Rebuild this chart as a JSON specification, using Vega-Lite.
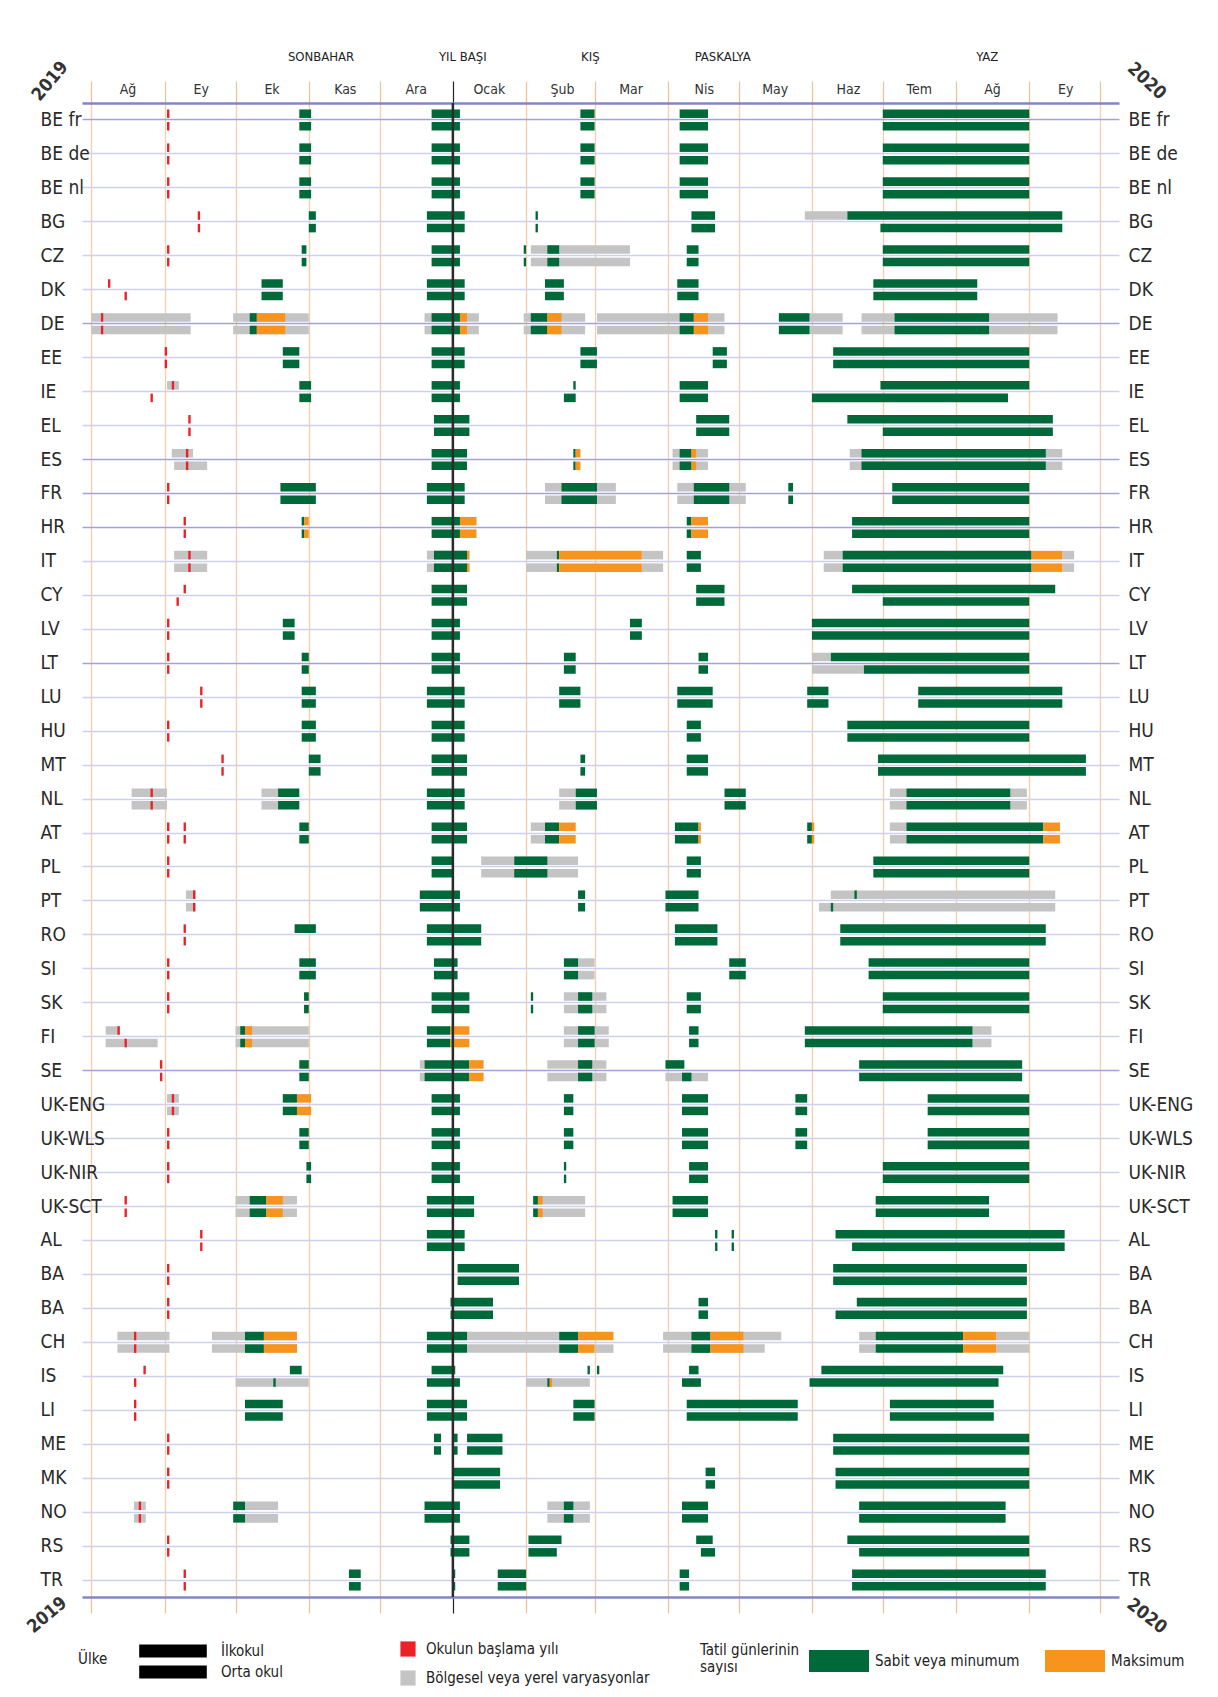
{
"$schema": "https://vega.github.io/schema/vega-lite/v6.json",
"width": 1037,
"height": 1494,
"autosize": {"type": "none"},
"padding": {"left": 82, "top": 103, "right": 99, "bottom": 100},
"background": "white",
"config": {
  "view": {"stroke": null},
  "font": "Liberation Sans Narrow, DejaVu Sans Condensed, Roboto, sans-serif",
  "axis": {"labelFont": "Liberation Sans Narrow, DejaVu Sans Condensed, Roboto, sans-serif"},
  "legend": {"labelFont": "Liberation Sans Narrow, DejaVu Sans Condensed, Roboto, sans-serif", "titleFont": "Liberation Sans Narrow, DejaVu Sans Condensed, Roboto, sans-serif", "labelFontSize": 15, "titleFontSize": 15, "titleFontWeight": "normal", "labelColor": "#222", "titleColor": "#222", "symbolStrokeWidth": 0, "labelLimit": 400}
},
"data": {"values": [
{"c":"BE fr","s":"2019-09-02","e":"2019-09-03","t":"r","l":["p","s"]},
{"c":"BE fr","s":"2019-10-28","e":"2019-11-02","t":"g","l":["p","s"]},
{"c":"BE fr","s":"2019-12-23","e":"2020-01-04","t":"g","l":["p","s"]},
{"c":"BE fr","s":"2020-02-24","e":"2020-03-01","t":"g","l":["p","s"]},
{"c":"BE fr","s":"2020-04-06","e":"2020-04-18","t":"g","l":["p","s"]},
{"c":"BE fr","s":"2020-07-01","e":"2020-09-01","t":"g","l":["p","s"]},
{"c":"BE de","s":"2019-09-02","e":"2019-09-03","t":"r","l":["p","s"]},
{"c":"BE de","s":"2019-10-28","e":"2019-11-02","t":"g","l":["p","s"]},
{"c":"BE de","s":"2019-12-23","e":"2020-01-04","t":"g","l":["p","s"]},
{"c":"BE de","s":"2020-02-24","e":"2020-03-01","t":"g","l":["p","s"]},
{"c":"BE de","s":"2020-04-06","e":"2020-04-18","t":"g","l":["p","s"]},
{"c":"BE de","s":"2020-07-01","e":"2020-09-01","t":"g","l":["p","s"]},
{"c":"BE nl","s":"2019-09-02","e":"2019-09-03","t":"r","l":["p","s"]},
{"c":"BE nl","s":"2019-10-28","e":"2019-11-02","t":"g","l":["p","s"]},
{"c":"BE nl","s":"2019-12-23","e":"2020-01-04","t":"g","l":["p","s"]},
{"c":"BE nl","s":"2020-02-24","e":"2020-03-01","t":"g","l":["p","s"]},
{"c":"BE nl","s":"2020-04-06","e":"2020-04-18","t":"g","l":["p","s"]},
{"c":"BE nl","s":"2020-07-01","e":"2020-09-01","t":"g","l":["p","s"]},
{"c":"BG","s":"2019-09-15","e":"2019-09-16","t":"r","l":["p","s"]},
{"c":"BG","s":"2019-11-01","e":"2019-11-04","t":"g","l":["p","s"]},
{"c":"BG","s":"2019-12-21","e":"2020-01-06","t":"g","l":["p","s"]},
{"c":"BG","s":"2020-02-05","e":"2020-02-06","t":"g","l":["p","s"]},
{"c":"BG","s":"2020-04-11","e":"2020-04-21","t":"g","l":["p","s"]},
{"c":"BG","s":"2020-05-29","e":"2020-06-16","t":"x","l":["p"]},
{"c":"BG","s":"2020-06-16","e":"2020-09-15","t":"g","l":["p"]},
{"c":"BG","s":"2020-06-30","e":"2020-09-15","t":"g","l":["s"]},
{"c":"CZ","s":"2019-09-02","e":"2019-09-03","t":"r","l":["p","s"]},
{"c":"CZ","s":"2019-10-29","e":"2019-10-31","t":"g","l":["p","s"]},
{"c":"CZ","s":"2019-12-23","e":"2020-01-04","t":"g","l":["p","s"]},
{"c":"CZ","s":"2020-01-31","e":"2020-02-01","t":"g","l":["p","s"]},
{"c":"CZ","s":"2020-02-03","e":"2020-03-16","t":"x","l":["p","s"]},
{"c":"CZ","s":"2020-02-10","e":"2020-02-15","t":"g","l":["p","s"]},
{"c":"CZ","s":"2020-04-09","e":"2020-04-14","t":"g","l":["p","s"]},
{"c":"CZ","s":"2020-07-01","e":"2020-09-01","t":"g","l":["p","s"]},
{"c":"DK","s":"2019-08-08","e":"2019-08-09","t":"r","l":["p"]},
{"c":"DK","s":"2019-08-15","e":"2019-08-16","t":"r","l":["s"]},
{"c":"DK","s":"2019-10-12","e":"2019-10-21","t":"g","l":["p","s"]},
{"c":"DK","s":"2019-12-21","e":"2020-01-06","t":"g","l":["p","s"]},
{"c":"DK","s":"2020-02-09","e":"2020-02-17","t":"g","l":["p","s"]},
{"c":"DK","s":"2020-04-05","e":"2020-04-14","t":"g","l":["p","s"]},
{"c":"DK","s":"2020-06-27","e":"2020-08-10","t":"g","l":["p","s"]},
{"c":"DE","s":"2019-08-01","e":"2019-09-12","t":"x","l":["p","s"]},
{"c":"DE","s":"2019-08-05","e":"2019-08-06","t":"r","l":["p","s"]},
{"c":"DE","s":"2019-09-30","e":"2019-11-01","t":"x","l":["p","s"]},
{"c":"DE","s":"2019-10-07","e":"2019-10-10","t":"g","l":["p","s"]},
{"c":"DE","s":"2019-10-10","e":"2019-10-22","t":"o","l":["p","s"]},
{"c":"DE","s":"2019-12-20","e":"2020-01-12","t":"x","l":["p","s"]},
{"c":"DE","s":"2019-12-23","e":"2020-01-04","t":"g","l":["p","s"]},
{"c":"DE","s":"2020-01-04","e":"2020-01-07","t":"o","l":["p","s"]},
{"c":"DE","s":"2020-01-31","e":"2020-02-26","t":"x","l":["p","s"]},
{"c":"DE","s":"2020-02-03","e":"2020-02-10","t":"g","l":["p","s"]},
{"c":"DE","s":"2020-02-10","e":"2020-02-16","t":"o","l":["p","s"]},
{"c":"DE","s":"2020-03-02","e":"2020-04-25","t":"x","l":["p","s"]},
{"c":"DE","s":"2020-04-06","e":"2020-04-12","t":"g","l":["p","s"]},
{"c":"DE","s":"2020-04-12","e":"2020-04-18","t":"o","l":["p","s"]},
{"c":"DE","s":"2020-05-18","e":"2020-05-31","t":"g","l":["p","s"]},
{"c":"DE","s":"2020-05-31","e":"2020-06-14","t":"x","l":["p","s"]},
{"c":"DE","s":"2020-06-22","e":"2020-09-13","t":"x","l":["p","s"]},
{"c":"DE","s":"2020-07-06","e":"2020-08-15","t":"g","l":["p","s"]},
{"c":"EE","s":"2019-09-01","e":"2019-09-02","t":"r","l":["p","s"]},
{"c":"EE","s":"2019-10-21","e":"2019-10-28","t":"g","l":["p","s"]},
{"c":"EE","s":"2019-12-23","e":"2020-01-06","t":"g","l":["p","s"]},
{"c":"EE","s":"2020-02-24","e":"2020-03-02","t":"g","l":["p","s"]},
{"c":"EE","s":"2020-04-20","e":"2020-04-26","t":"g","l":["p","s"]},
{"c":"EE","s":"2020-06-10","e":"2020-09-01","t":"g","l":["p","s"]},
{"c":"IE","s":"2019-09-02","e":"2019-09-07","t":"x","l":["p"]},
{"c":"IE","s":"2019-09-04","e":"2019-09-05","t":"r","l":["p"]},
{"c":"IE","s":"2019-08-26","e":"2019-08-27","t":"r","l":["s"]},
{"c":"IE","s":"2019-10-28","e":"2019-11-02","t":"g","l":["p","s"]},
{"c":"IE","s":"2019-12-23","e":"2020-01-04","t":"g","l":["p","s"]},
{"c":"IE","s":"2020-02-21","e":"2020-02-22","t":"g","l":["p"]},
{"c":"IE","s":"2020-02-17","e":"2020-02-22","t":"g","l":["s"]},
{"c":"IE","s":"2020-04-06","e":"2020-04-18","t":"g","l":["p","s"]},
{"c":"IE","s":"2020-06-30","e":"2020-09-01","t":"g","l":["p"]},
{"c":"IE","s":"2020-06-01","e":"2020-08-23","t":"g","l":["s"]},
{"c":"EL","s":"2019-09-11","e":"2019-09-12","t":"r","l":["p","s"]},
{"c":"EL","s":"2019-12-24","e":"2020-01-08","t":"g","l":["p","s"]},
{"c":"EL","s":"2020-04-13","e":"2020-04-27","t":"g","l":["p","s"]},
{"c":"EL","s":"2020-06-16","e":"2020-09-11","t":"g","l":["p"]},
{"c":"EL","s":"2020-07-01","e":"2020-09-11","t":"g","l":["s"]},
{"c":"ES","s":"2019-09-04","e":"2019-09-13","t":"x","l":["p"]},
{"c":"ES","s":"2019-09-05","e":"2019-09-19","t":"x","l":["s"]},
{"c":"ES","s":"2019-09-10","e":"2019-09-11","t":"r","l":["p","s"]},
{"c":"ES","s":"2019-12-23","e":"2020-01-07","t":"g","l":["p","s"]},
{"c":"ES","s":"2020-02-21","e":"2020-02-22","t":"g","l":["p","s"]},
{"c":"ES","s":"2020-02-22","e":"2020-02-24","t":"o","l":["p","s"]},
{"c":"ES","s":"2020-04-03","e":"2020-04-18","t":"x","l":["p","s"]},
{"c":"ES","s":"2020-04-06","e":"2020-04-11","t":"g","l":["p","s"]},
{"c":"ES","s":"2020-04-11","e":"2020-04-13","t":"o","l":["p","s"]},
{"c":"ES","s":"2020-06-17","e":"2020-09-15","t":"x","l":["p","s"]},
{"c":"ES","s":"2020-06-22","e":"2020-09-08","t":"g","l":["p","s"]},
{"c":"FR","s":"2019-09-02","e":"2019-09-03","t":"r","l":["p","s"]},
{"c":"FR","s":"2019-10-20","e":"2019-11-04","t":"g","l":["p","s"]},
{"c":"FR","s":"2019-12-21","e":"2020-01-06","t":"g","l":["p","s"]},
{"c":"FR","s":"2020-02-09","e":"2020-03-10","t":"x","l":["p","s"]},
{"c":"FR","s":"2020-02-16","e":"2020-03-02","t":"g","l":["p","s"]},
{"c":"FR","s":"2020-04-05","e":"2020-05-04","t":"x","l":["p","s"]},
{"c":"FR","s":"2020-04-12","e":"2020-04-27","t":"g","l":["p","s"]},
{"c":"FR","s":"2020-05-22","e":"2020-05-24","t":"g","l":["p","s"]},
{"c":"FR","s":"2020-07-05","e":"2020-09-01","t":"g","l":["p","s"]},
{"c":"HR","s":"2019-09-09","e":"2019-09-10","t":"r","l":["p","s"]},
{"c":"HR","s":"2019-10-29","e":"2019-10-30","t":"g","l":["p","s"]},
{"c":"HR","s":"2019-10-30","e":"2019-11-01","t":"o","l":["p","s"]},
{"c":"HR","s":"2019-12-23","e":"2020-01-04","t":"g","l":["p","s"]},
{"c":"HR","s":"2020-01-04","e":"2020-01-11","t":"o","l":["p","s"]},
{"c":"HR","s":"2020-04-09","e":"2020-04-11","t":"g","l":["p","s"]},
{"c":"HR","s":"2020-04-11","e":"2020-04-18","t":"o","l":["p","s"]},
{"c":"HR","s":"2020-06-18","e":"2020-09-01","t":"g","l":["p","s"]},
{"c":"IT","s":"2019-09-05","e":"2019-09-19","t":"x","l":["p","s"]},
{"c":"IT","s":"2019-09-11","e":"2019-09-12","t":"r","l":["p","s"]},
{"c":"IT","s":"2019-12-21","e":"2020-01-08","t":"x","l":["p","s"]},
{"c":"IT","s":"2019-12-24","e":"2020-01-07","t":"g","l":["p","s"]},
{"c":"IT","s":"2020-01-07","e":"2020-01-08","t":"o","l":["p","s"]},
{"c":"IT","s":"2020-02-01","e":"2020-02-14","t":"x","l":["p","s"]},
{"c":"IT","s":"2020-02-14","e":"2020-02-15","t":"g","l":["p","s"]},
{"c":"IT","s":"2020-02-15","e":"2020-03-21","t":"o","l":["p","s"]},
{"c":"IT","s":"2020-03-21","e":"2020-03-30","t":"x","l":["p","s"]},
{"c":"IT","s":"2020-04-09","e":"2020-04-15","t":"g","l":["p","s"]},
{"c":"IT","s":"2020-06-06","e":"2020-06-14","t":"x","l":["p","s"]},
{"c":"IT","s":"2020-06-14","e":"2020-09-02","t":"g","l":["p","s"]},
{"c":"IT","s":"2020-09-02","e":"2020-09-15","t":"o","l":["p","s"]},
{"c":"IT","s":"2020-09-15","e":"2020-09-20","t":"x","l":["p","s"]},
{"c":"CY","s":"2019-09-09","e":"2019-09-10","t":"r","l":["p"]},
{"c":"CY","s":"2019-09-06","e":"2019-09-07","t":"r","l":["s"]},
{"c":"CY","s":"2019-12-23","e":"2020-01-07","t":"g","l":["p","s"]},
{"c":"CY","s":"2020-04-13","e":"2020-04-25","t":"g","l":["p","s"]},
{"c":"CY","s":"2020-06-18","e":"2020-09-12","t":"g","l":["p"]},
{"c":"CY","s":"2020-07-01","e":"2020-09-01","t":"g","l":["s"]},
{"c":"LV","s":"2019-09-02","e":"2019-09-03","t":"r","l":["p","s"]},
{"c":"LV","s":"2019-10-21","e":"2019-10-26","t":"g","l":["p","s"]},
{"c":"LV","s":"2019-12-23","e":"2020-01-04","t":"g","l":["p","s"]},
{"c":"LV","s":"2020-03-16","e":"2020-03-21","t":"g","l":["p","s"]},
{"c":"LV","s":"2020-06-01","e":"2020-09-01","t":"g","l":["p","s"]},
{"c":"LT","s":"2019-09-02","e":"2019-09-03","t":"r","l":["p","s"]},
{"c":"LT","s":"2019-10-29","e":"2019-11-01","t":"g","l":["p","s"]},
{"c":"LT","s":"2019-12-23","e":"2020-01-04","t":"g","l":["p","s"]},
{"c":"LT","s":"2020-02-17","e":"2020-02-22","t":"g","l":["p","s"]},
{"c":"LT","s":"2020-04-14","e":"2020-04-18","t":"g","l":["p","s"]},
{"c":"LT","s":"2020-06-01","e":"2020-06-09","t":"x","l":["p"]},
{"c":"LT","s":"2020-06-09","e":"2020-09-01","t":"g","l":["p"]},
{"c":"LT","s":"2020-06-01","e":"2020-06-23","t":"x","l":["s"]},
{"c":"LT","s":"2020-06-23","e":"2020-09-01","t":"g","l":["s"]},
{"c":"LU","s":"2019-09-16","e":"2019-09-17","t":"r","l":["p","s"]},
{"c":"LU","s":"2019-10-29","e":"2019-11-04","t":"g","l":["p","s"]},
{"c":"LU","s":"2019-12-21","e":"2020-01-06","t":"g","l":["p","s"]},
{"c":"LU","s":"2020-02-15","e":"2020-02-24","t":"g","l":["p","s"]},
{"c":"LU","s":"2020-04-05","e":"2020-04-20","t":"g","l":["p","s"]},
{"c":"LU","s":"2020-05-30","e":"2020-06-08","t":"g","l":["p","s"]},
{"c":"LU","s":"2020-07-16","e":"2020-09-15","t":"g","l":["p","s"]},
{"c":"HU","s":"2019-09-02","e":"2019-09-03","t":"r","l":["p","s"]},
{"c":"HU","s":"2019-10-29","e":"2019-11-04","t":"g","l":["p","s"]},
{"c":"HU","s":"2019-12-23","e":"2020-01-06","t":"g","l":["p","s"]},
{"c":"HU","s":"2020-04-09","e":"2020-04-15","t":"g","l":["p","s"]},
{"c":"HU","s":"2020-06-16","e":"2020-09-01","t":"g","l":["p","s"]},
{"c":"MT","s":"2019-09-25","e":"2019-09-26","t":"r","l":["p","s"]},
{"c":"MT","s":"2019-11-01","e":"2019-11-06","t":"g","l":["p","s"]},
{"c":"MT","s":"2019-12-23","e":"2020-01-07","t":"g","l":["p","s"]},
{"c":"MT","s":"2020-02-24","e":"2020-02-26","t":"g","l":["p","s"]},
{"c":"MT","s":"2020-04-09","e":"2020-04-18","t":"g","l":["p","s"]},
{"c":"MT","s":"2020-06-29","e":"2020-09-25","t":"g","l":["p","s"]},
{"c":"NL","s":"2019-08-18","e":"2019-09-02","t":"x","l":["p","s"]},
{"c":"NL","s":"2019-08-26","e":"2019-08-27","t":"r","l":["p","s"]},
{"c":"NL","s":"2019-10-12","e":"2019-10-19","t":"x","l":["p","s"]},
{"c":"NL","s":"2019-10-19","e":"2019-10-28","t":"g","l":["p","s"]},
{"c":"NL","s":"2019-12-21","e":"2020-01-06","t":"g","l":["p","s"]},
{"c":"NL","s":"2020-02-15","e":"2020-02-22","t":"x","l":["p","s"]},
{"c":"NL","s":"2020-02-22","e":"2020-03-02","t":"g","l":["p","s"]},
{"c":"NL","s":"2020-04-25","e":"2020-05-04","t":"g","l":["p","s"]},
{"c":"NL","s":"2020-07-04","e":"2020-07-11","t":"x","l":["p","s"]},
{"c":"NL","s":"2020-07-11","e":"2020-08-24","t":"g","l":["p","s"]},
{"c":"NL","s":"2020-08-24","e":"2020-08-31","t":"x","l":["p","s"]},
{"c":"AT","s":"2019-09-02","e":"2019-09-03","t":"r","l":["p","s"]},
{"c":"AT","s":"2019-09-09","e":"2019-09-10","t":"r","l":["p","s"]},
{"c":"AT","s":"2019-10-28","e":"2019-11-01","t":"g","l":["p","s"]},
{"c":"AT","s":"2019-12-23","e":"2020-01-07","t":"g","l":["p","s"]},
{"c":"AT","s":"2020-02-03","e":"2020-02-09","t":"x","l":["p","s"]},
{"c":"AT","s":"2020-02-09","e":"2020-02-15","t":"g","l":["p","s"]},
{"c":"AT","s":"2020-02-15","e":"2020-02-22","t":"o","l":["p","s"]},
{"c":"AT","s":"2020-04-04","e":"2020-04-14","t":"g","l":["p","s"]},
{"c":"AT","s":"2020-04-14","e":"2020-04-15","t":"o","l":["p","s"]},
{"c":"AT","s":"2020-05-30","e":"2020-06-01","t":"g","l":["p","s"]},
{"c":"AT","s":"2020-06-01","e":"2020-06-02","t":"o","l":["p","s"]},
{"c":"AT","s":"2020-07-04","e":"2020-07-11","t":"x","l":["p","s"]},
{"c":"AT","s":"2020-07-11","e":"2020-09-07","t":"g","l":["p","s"]},
{"c":"AT","s":"2020-09-07","e":"2020-09-14","t":"o","l":["p","s"]},
{"c":"PL","s":"2019-09-02","e":"2019-09-03","t":"r","l":["p","s"]},
{"c":"PL","s":"2019-12-23","e":"2020-01-01","t":"g","l":["p","s"]},
{"c":"PL","s":"2020-01-13","e":"2020-02-23","t":"x","l":["p","s"]},
{"c":"PL","s":"2020-01-27","e":"2020-02-10","t":"g","l":["p","s"]},
{"c":"PL","s":"2020-04-09","e":"2020-04-15","t":"g","l":["p","s"]},
{"c":"PL","s":"2020-06-27","e":"2020-09-01","t":"g","l":["p","s"]},
{"c":"PT","s":"2019-09-10","e":"2019-09-14","t":"x","l":["p","s"]},
{"c":"PT","s":"2019-09-13","e":"2019-09-14","t":"r","l":["p","s"]},
{"c":"PT","s":"2019-12-18","e":"2020-01-04","t":"g","l":["p","s"]},
{"c":"PT","s":"2020-02-23","e":"2020-02-26","t":"g","l":["p","s"]},
{"c":"PT","s":"2020-03-31","e":"2020-04-14","t":"g","l":["p","s"]},
{"c":"PT","s":"2020-06-09","e":"2020-09-12","t":"x","l":["p"]},
{"c":"PT","s":"2020-06-19","e":"2020-06-20","t":"g","l":["p"]},
{"c":"PT","s":"2020-06-04","e":"2020-09-12","t":"x","l":["s"]},
{"c":"PT","s":"2020-06-09","e":"2020-06-10","t":"g","l":["s"]},
{"c":"RO","s":"2019-09-09","e":"2019-09-10","t":"r","l":["p","s"]},
{"c":"RO","s":"2019-10-26","e":"2019-11-04","t":"g","l":["p"]},
{"c":"RO","s":"2019-12-21","e":"2020-01-13","t":"g","l":["p","s"]},
{"c":"RO","s":"2020-04-04","e":"2020-04-22","t":"g","l":["p","s"]},
{"c":"RO","s":"2020-06-13","e":"2020-09-08","t":"g","l":["p","s"]},
{"c":"SI","s":"2019-09-02","e":"2019-09-03","t":"r","l":["p","s"]},
{"c":"SI","s":"2019-10-28","e":"2019-11-04","t":"g","l":["p","s"]},
{"c":"SI","s":"2019-12-24","e":"2020-01-03","t":"g","l":["p","s"]},
{"c":"SI","s":"2020-02-17","e":"2020-02-23","t":"g","l":["p","s"]},
{"c":"SI","s":"2020-02-23","e":"2020-03-01","t":"x","l":["p","s"]},
{"c":"SI","s":"2020-04-27","e":"2020-05-04","t":"g","l":["p","s"]},
{"c":"SI","s":"2020-06-25","e":"2020-09-01","t":"g","l":["p","s"]},
{"c":"SK","s":"2019-09-02","e":"2019-09-03","t":"r","l":["p","s"]},
{"c":"SK","s":"2019-10-30","e":"2019-11-01","t":"g","l":["p","s"]},
{"c":"SK","s":"2019-12-23","e":"2020-01-08","t":"g","l":["p","s"]},
{"c":"SK","s":"2020-02-03","e":"2020-02-04","t":"g","l":["p","s"]},
{"c":"SK","s":"2020-02-17","e":"2020-03-06","t":"x","l":["p","s"]},
{"c":"SK","s":"2020-02-23","e":"2020-02-29","t":"g","l":["p","s"]},
{"c":"SK","s":"2020-04-09","e":"2020-04-15","t":"g","l":["p","s"]},
{"c":"SK","s":"2020-07-01","e":"2020-09-01","t":"g","l":["p","s"]},
{"c":"FI","s":"2019-08-07","e":"2019-08-13","t":"x","l":["p"]},
{"c":"FI","s":"2019-08-07","e":"2019-08-29","t":"x","l":["s"]},
{"c":"FI","s":"2019-08-12","e":"2019-08-13","t":"r","l":["p"]},
{"c":"FI","s":"2019-08-15","e":"2019-08-16","t":"r","l":["s"]},
{"c":"FI","s":"2019-10-01","e":"2019-11-01","t":"x","l":["p","s"]},
{"c":"FI","s":"2019-10-03","e":"2019-10-05","t":"g","l":["p","s"]},
{"c":"FI","s":"2019-10-05","e":"2019-10-08","t":"o","l":["p","s"]},
{"c":"FI","s":"2019-12-21","e":"2019-12-31","t":"g","l":["p","s"]},
{"c":"FI","s":"2019-12-31","e":"2020-01-08","t":"o","l":["p","s"]},
{"c":"FI","s":"2020-02-17","e":"2020-03-07","t":"x","l":["p","s"]},
{"c":"FI","s":"2020-02-23","e":"2020-03-01","t":"g","l":["p","s"]},
{"c":"FI","s":"2020-04-10","e":"2020-04-14","t":"g","l":["p","s"]},
{"c":"FI","s":"2020-05-29","e":"2020-08-08","t":"g","l":["p","s"]},
{"c":"FI","s":"2020-08-08","e":"2020-08-16","t":"x","l":["p","s"]},
{"c":"SE","s":"2019-08-30","e":"2019-08-31","t":"r","l":["p","s"]},
{"c":"SE","s":"2019-10-28","e":"2019-11-01","t":"g","l":["p","s"]},
{"c":"SE","s":"2019-12-18","e":"2019-12-20","t":"x","l":["p","s"]},
{"c":"SE","s":"2019-12-20","e":"2020-01-08","t":"g","l":["p","s"]},
{"c":"SE","s":"2020-01-08","e":"2020-01-14","t":"o","l":["p","s"]},
{"c":"SE","s":"2020-02-10","e":"2020-03-06","t":"x","l":["p","s"]},
{"c":"SE","s":"2020-02-23","e":"2020-02-29","t":"g","l":["p","s"]},
{"c":"SE","s":"2020-03-31","e":"2020-04-08","t":"g","l":["p"]},
{"c":"SE","s":"2020-03-31","e":"2020-04-18","t":"x","l":["s"]},
{"c":"SE","s":"2020-04-07","e":"2020-04-11","t":"g","l":["s"]},
{"c":"SE","s":"2020-06-21","e":"2020-08-29","t":"g","l":["p","s"]},
{"c":"UK-ENG","s":"2019-09-02","e":"2019-09-07","t":"x","l":["p","s"]},
{"c":"UK-ENG","s":"2019-09-04","e":"2019-09-05","t":"r","l":["p","s"]},
{"c":"UK-ENG","s":"2019-10-21","e":"2019-10-27","t":"g","l":["p","s"]},
{"c":"UK-ENG","s":"2019-10-27","e":"2019-11-02","t":"o","l":["p","s"]},
{"c":"UK-ENG","s":"2019-12-23","e":"2020-01-04","t":"g","l":["p","s"]},
{"c":"UK-ENG","s":"2020-02-17","e":"2020-02-21","t":"g","l":["p","s"]},
{"c":"UK-ENG","s":"2020-04-07","e":"2020-04-18","t":"g","l":["p","s"]},
{"c":"UK-ENG","s":"2020-05-25","e":"2020-05-30","t":"g","l":["p","s"]},
{"c":"UK-ENG","s":"2020-07-20","e":"2020-09-01","t":"g","l":["p","s"]},
{"c":"UK-WLS","s":"2019-09-02","e":"2019-09-03","t":"r","l":["p","s"]},
{"c":"UK-WLS","s":"2019-10-28","e":"2019-11-01","t":"g","l":["p","s"]},
{"c":"UK-WLS","s":"2019-12-23","e":"2020-01-04","t":"g","l":["p","s"]},
{"c":"UK-WLS","s":"2020-02-17","e":"2020-02-21","t":"g","l":["p","s"]},
{"c":"UK-WLS","s":"2020-04-07","e":"2020-04-18","t":"g","l":["p","s"]},
{"c":"UK-WLS","s":"2020-05-25","e":"2020-05-30","t":"g","l":["p","s"]},
{"c":"UK-WLS","s":"2020-07-20","e":"2020-09-01","t":"g","l":["p","s"]},
{"c":"UK-NIR","s":"2019-09-02","e":"2019-09-03","t":"r","l":["p","s"]},
{"c":"UK-NIR","s":"2019-10-31","e":"2019-11-02","t":"g","l":["p","s"]},
{"c":"UK-NIR","s":"2019-12-23","e":"2020-01-04","t":"g","l":["p","s"]},
{"c":"UK-NIR","s":"2020-02-17","e":"2020-02-18","t":"g","l":["p","s"]},
{"c":"UK-NIR","s":"2020-04-10","e":"2020-04-18","t":"g","l":["p","s"]},
{"c":"UK-NIR","s":"2020-07-01","e":"2020-09-01","t":"g","l":["p","s"]},
{"c":"UK-SCT","s":"2019-08-15","e":"2019-08-16","t":"r","l":["p","s"]},
{"c":"UK-SCT","s":"2019-10-01","e":"2019-10-27","t":"x","l":["p","s"]},
{"c":"UK-SCT","s":"2019-10-07","e":"2019-10-14","t":"g","l":["p","s"]},
{"c":"UK-SCT","s":"2019-10-14","e":"2019-10-21","t":"o","l":["p","s"]},
{"c":"UK-SCT","s":"2019-12-21","e":"2020-01-10","t":"g","l":["p","s"]},
{"c":"UK-SCT","s":"2020-02-04","e":"2020-02-26","t":"x","l":["p","s"]},
{"c":"UK-SCT","s":"2020-02-04","e":"2020-02-06","t":"g","l":["p","s"]},
{"c":"UK-SCT","s":"2020-02-06","e":"2020-02-08","t":"o","l":["p","s"]},
{"c":"UK-SCT","s":"2020-04-03","e":"2020-04-18","t":"g","l":["p","s"]},
{"c":"UK-SCT","s":"2020-06-28","e":"2020-08-15","t":"g","l":["p","s"]},
{"c":"AL","s":"2019-09-16","e":"2019-09-17","t":"r","l":["p","s"]},
{"c":"AL","s":"2019-12-21","e":"2020-01-06","t":"g","l":["p","s"]},
{"c":"AL","s":"2020-04-21","e":"2020-04-22","t":"g","l":["p","s"]},
{"c":"AL","s":"2020-04-28","e":"2020-04-29","t":"g","l":["p","s"]},
{"c":"AL","s":"2020-06-11","e":"2020-09-16","t":"g","l":["p"]},
{"c":"AL","s":"2020-06-18","e":"2020-09-16","t":"g","l":["s"]},
{"c":"BA1","s":"2019-09-02","e":"2019-09-03","t":"r","l":["p","s"]},
{"c":"BA1","s":"2020-01-03","e":"2020-01-29","t":"g","l":["p","s"]},
{"c":"BA1","s":"2020-06-10","e":"2020-08-31","t":"g","l":["p","s"]},
{"c":"BA2","s":"2019-09-02","e":"2019-09-03","t":"r","l":["p","s"]},
{"c":"BA2","s":"2019-12-31","e":"2020-01-18","t":"g","l":["p","s"]},
{"c":"BA2","s":"2020-04-14","e":"2020-04-18","t":"g","l":["p","s"]},
{"c":"BA2","s":"2020-06-20","e":"2020-08-31","t":"g","l":["p"]},
{"c":"BA2","s":"2020-06-11","e":"2020-08-31","t":"g","l":["s"]},
{"c":"CH","s":"2019-08-12","e":"2019-09-03","t":"x","l":["p","s"]},
{"c":"CH","s":"2019-08-19","e":"2019-08-20","t":"r","l":["p","s"]},
{"c":"CH","s":"2019-09-21","e":"2019-10-27","t":"x","l":["p","s"]},
{"c":"CH","s":"2019-10-05","e":"2019-10-13","t":"g","l":["p","s"]},
{"c":"CH","s":"2019-10-13","e":"2019-10-27","t":"o","l":["p","s"]},
{"c":"CH","s":"2019-12-21","e":"2020-01-07","t":"g","l":["p","s"]},
{"c":"CH","s":"2020-01-07","e":"2020-02-15","t":"x","l":["p","s"]},
{"c":"CH","s":"2020-02-15","e":"2020-02-23","t":"g","l":["p","s"]},
{"c":"CH","s":"2020-02-23","e":"2020-03-09","t":"o","l":["p"]},
{"c":"CH","s":"2020-02-23","e":"2020-03-01","t":"o","l":["s"]},
{"c":"CH","s":"2020-03-01","e":"2020-03-09","t":"x","l":["s"]},
{"c":"CH","s":"2020-03-30","e":"2020-05-19","t":"x","l":["p"]},
{"c":"CH","s":"2020-03-30","e":"2020-05-12","t":"x","l":["s"]},
{"c":"CH","s":"2020-04-11","e":"2020-04-19","t":"g","l":["p","s"]},
{"c":"CH","s":"2020-04-19","e":"2020-05-03","t":"o","l":["p","s"]},
{"c":"CH","s":"2020-06-21","e":"2020-06-28","t":"x","l":["p","s"]},
{"c":"CH","s":"2020-06-28","e":"2020-08-04","t":"g","l":["p","s"]},
{"c":"CH","s":"2020-08-04","e":"2020-08-18","t":"o","l":["p","s"]},
{"c":"CH","s":"2020-08-18","e":"2020-09-01","t":"x","l":["p","s"]},
{"c":"IS","s":"2019-08-23","e":"2019-08-24","t":"r","l":["p"]},
{"c":"IS","s":"2019-08-19","e":"2019-08-20","t":"r","l":["s"]},
{"c":"IS","s":"2019-10-24","e":"2019-10-29","t":"g","l":["p"]},
{"c":"IS","s":"2019-10-01","e":"2019-11-01","t":"x","l":["s"]},
{"c":"IS","s":"2019-10-17","e":"2019-10-18","t":"g","l":["s"]},
{"c":"IS","s":"2019-12-23","e":"2020-01-02","t":"g","l":["p"]},
{"c":"IS","s":"2019-12-21","e":"2020-01-04","t":"g","l":["s"]},
{"c":"IS","s":"2020-02-27","e":"2020-02-28","t":"g","l":["p"]},
{"c":"IS","s":"2020-03-02","e":"2020-03-03","t":"g","l":["p"]},
{"c":"IS","s":"2020-02-01","e":"2020-02-28","t":"x","l":["s"]},
{"c":"IS","s":"2020-02-10","e":"2020-02-11","t":"g","l":["s"]},
{"c":"IS","s":"2020-02-11","e":"2020-02-12","t":"o","l":["s"]},
{"c":"IS","s":"2020-04-10","e":"2020-04-14","t":"g","l":["p"]},
{"c":"IS","s":"2020-04-07","e":"2020-04-15","t":"g","l":["s"]},
{"c":"IS","s":"2020-06-05","e":"2020-08-21","t":"g","l":["p"]},
{"c":"IS","s":"2020-05-31","e":"2020-08-19","t":"g","l":["s"]},
{"c":"LI","s":"2019-08-19","e":"2019-08-20","t":"r","l":["p","s"]},
{"c":"LI","s":"2019-10-05","e":"2019-10-21","t":"g","l":["p","s"]},
{"c":"LI","s":"2019-12-21","e":"2020-01-07","t":"g","l":["p","s"]},
{"c":"LI","s":"2020-02-21","e":"2020-03-01","t":"g","l":["p","s"]},
{"c":"LI","s":"2020-04-09","e":"2020-05-26","t":"g","l":["p","s"]},
{"c":"LI","s":"2020-07-04","e":"2020-08-17","t":"g","l":["p","s"]},
{"c":"ME","s":"2019-09-02","e":"2019-09-03","t":"r","l":["p","s"]},
{"c":"ME","s":"2019-12-24","e":"2019-12-27","t":"g","l":["p","s"]},
{"c":"ME","s":"2020-01-01","e":"2020-01-03","t":"g","l":["p","s"]},
{"c":"ME","s":"2020-01-07","e":"2020-01-22","t":"g","l":["p","s"]},
{"c":"ME","s":"2020-06-10","e":"2020-09-01","t":"g","l":["p","s"]},
{"c":"MK","s":"2019-09-02","e":"2019-09-03","t":"r","l":["p","s"]},
{"c":"MK","s":"2020-01-01","e":"2020-01-21","t":"g","l":["p","s"]},
{"c":"MK","s":"2020-04-17","e":"2020-04-21","t":"g","l":["p","s"]},
{"c":"MK","s":"2020-06-11","e":"2020-09-01","t":"g","l":["p","s"]},
{"c":"NO","s":"2019-08-19","e":"2019-08-24","t":"x","l":["p","s"]},
{"c":"NO","s":"2019-08-21","e":"2019-08-22","t":"r","l":["p","s"]},
{"c":"NO","s":"2019-09-30","e":"2019-10-05","t":"g","l":["p","s"]},
{"c":"NO","s":"2019-10-05","e":"2019-10-19","t":"x","l":["p","s"]},
{"c":"NO","s":"2019-12-20","e":"2020-01-04","t":"g","l":["p","s"]},
{"c":"NO","s":"2020-02-10","e":"2020-02-28","t":"x","l":["p","s"]},
{"c":"NO","s":"2020-02-17","e":"2020-02-21","t":"g","l":["p","s"]},
{"c":"NO","s":"2020-04-07","e":"2020-04-18","t":"g","l":["p","s"]},
{"c":"NO","s":"2020-06-21","e":"2020-08-22","t":"g","l":["p","s"]},
{"c":"RS","s":"2019-09-02","e":"2019-09-03","t":"r","l":["p","s"]},
{"c":"RS","s":"2019-12-31","e":"2020-01-08","t":"g","l":["p","s"]},
{"c":"RS","s":"2020-02-02","e":"2020-02-16","t":"g","l":["p"]},
{"c":"RS","s":"2020-02-02","e":"2020-02-14","t":"g","l":["s"]},
{"c":"RS","s":"2020-04-13","e":"2020-04-20","t":"g","l":["p"]},
{"c":"RS","s":"2020-04-15","e":"2020-04-21","t":"g","l":["s"]},
{"c":"RS","s":"2020-06-16","e":"2020-09-01","t":"g","l":["p"]},
{"c":"RS","s":"2020-06-21","e":"2020-09-01","t":"g","l":["s"]},
{"c":"TR","s":"2019-09-09","e":"2019-09-10","t":"r","l":["p","s"]},
{"c":"TR","s":"2019-11-18","e":"2019-11-23","t":"g","l":["p","s"]},
{"c":"TR","s":"2020-01-01","e":"2020-01-02","t":"g","l":["p","s"]},
{"c":"TR","s":"2020-01-20","e":"2020-02-01","t":"g","l":["p","s"]},
{"c":"TR","s":"2020-04-06","e":"2020-04-10","t":"g","l":["p","s"]},
{"c":"TR","s":"2020-06-18","e":"2020-09-08","t":"g","l":["p","s"]}
]},
"transform": [{"flatten": ["l"]}],
"resolve": {"axis": {"x": "independent", "y": "independent"}},
"layer": [
{
  "transform": [{"filter": "datum.t == 'x'"}],
  "mark": {"type": "bar"},
  "encoding": {
    "x": {"field": "s", "type": "temporal",
      "scale": {"type": "utc", "domain": [{"year": 2019, "month": 7, "date": 28, "utc": true}, {"year": 2020, "month": 10, "date": 9, "utc": true}]},
      "axis": {"orient": "top", "title": null,
        "values": [{"year":2019,"month":8,"date":1,"utc":true},{"year":2019,"month":9,"date":1,"utc":true},{"year":2019,"month":10,"date":1,"utc":true},{"year":2019,"month":11,"date":1,"utc":true},{"year":2019,"month":12,"date":1,"utc":true},{"year":2020,"month":1,"date":1,"utc":true},{"year":2020,"month":2,"date":1,"utc":true},{"year":2020,"month":3,"date":1,"utc":true},{"year":2020,"month":4,"date":1,"utc":true},{"year":2020,"month":5,"date":1,"utc":true},{"year":2020,"month":6,"date":1,"utc":true},{"year":2020,"month":7,"date":1,"utc":true},{"year":2020,"month":8,"date":1,"utc":true},{"year":2020,"month":9,"date":1,"utc":true},{"year":2020,"month":10,"date":1,"utc":true}],
        "labelExpr": "utcyear(datum.value) == 2020 && utcmonth(datum.value) >= 9 ? '' : ['Ocak','Şub','Mar','Nis','May','Haz','Tem','Ağ','Ey','Ek','Kas','Ara'][utcmonth(datum.value)]",
        "labelOffset": 36, "labelAlign": "center", "labelPadding": -15, "labelFontSize": 14, "labelColor": "#333",
        "labelFlush": false, "labelOverlap": false, "labelBound": false,
        "tickSize": 22, "tickWidth": 1.2,
        "tickColor": {"condition": {"test": "utcmonth(datum.value) == 0", "value": "#222222"}, "value": "#f6bd95"},
        "grid": true, "gridColor": "#f8cbaa", "gridWidth": 1.3,
        "domainColor": "#8484c6", "domainWidth": 2.5}},
    "x2": {"field": "e"},
    "y": {"field": "c", "type": "nominal",
      "scale": {"domain": ["BE fr","BE de","BE nl","BG","CZ","DK","DE","EE","IE","EL","ES","FR","HR","IT","CY","LV","LT","LU","HU","MT","NL","AT","PL","PT","RO","SI","SK","FI","SE","UK-ENG","UK-WLS","UK-NIR","UK-SCT","AL","BA1","BA2","CH","IS","LI","ME","MK","NO","RS","TR"], "paddingInner": 0.38, "paddingOuter": 0.19},
      "axis": {"orient": "left", "title": null, "domain": false, "ticks": false, "tickSize": 0,
        "labelPadding": 42, "labelAlign": "left", "labelFontSize": 19, "labelColor": "#2a2a2a",
        "labelExpr": "datum.value == 'BA1' || datum.value == 'BA2' ? 'BA' : datum.value",
        "grid": true, "bandPosition": 0.5, "gridWidth": 1.6,
        "gridColor": {"condition": {"test": "indexof(['BE fr','DE','ES','FR','HR','LT','SE'], datum.value) >= 0", "value": "#a3a3d8"}, "value": "#cfcfee"}}},
    "yOffset": {"field": "l", "type": "nominal", "scale": {"domain": ["p","s"], "paddingInner": 0.32, "paddingOuter": 0}},
    "fill": {"field": "t", "type": "nominal", "scale": {"domain": ["r","x"], "range": ["#ec2027","#c4c4c4"]},
      "legend": {"orient": "none", "legendX": 318, "legendY": 1538, "title": null, "direction": "vertical", "symbolType": "square", "symbolSize": 230, "rowPadding": 13, "labelOffset": 10,
        "labelExpr": "datum.value == 'r' ? 'Okulun başlama yılı' : 'Bölgesel veya yerel varyasyonlar'"}}
  }
},
{
  "transform": [{"filter": "datum.t == 'g'"}],
  "mark": {"type": "bar"},
  "encoding": {
    "x": {"field": "s", "type": "temporal",
      "scale": {"type": "utc", "domain": [{"year": 2019, "month": 7, "date": 28, "utc": true}, {"year": 2020, "month": 10, "date": 9, "utc": true}]},
      "axis": {"orient": "top", "title": null,
        "values": [{"year":2019,"month":11,"date":6,"utc":true},{"year":2020,"month":1,"date":5,"utc":true},{"year":2020,"month":2,"date":28,"utc":true},{"year":2020,"month":4,"date":24,"utc":true},{"year":2020,"month":8,"date":14,"utc":true}],
        "labelExpr": "utcmonth(datum.value) == 10 ? 'SONBAHAR' : utcmonth(datum.value) == 0 ? 'YIL BAŞI' : utcmonth(datum.value) == 1 ? 'KIŞ' : utcmonth(datum.value) == 3 ? 'PASKALYA' : 'YAZ'",
        "ticks": false, "tickSize": 0, "domain": false, "grid": false,
        "labelPadding": 40, "labelFontSize": 13, "labelColor": "#222", "labelAlign": "center",
        "labelFlush": false, "labelOverlap": false, "labelBound": false}},
    "x2": {"field": "e"},
    "y": {"field": "c", "type": "nominal",
      "scale": {"domain": ["BE fr","BE de","BE nl","BG","CZ","DK","DE","EE","IE","EL","ES","FR","HR","IT","CY","LV","LT","LU","HU","MT","NL","AT","PL","PT","RO","SI","SK","FI","SE","UK-ENG","UK-WLS","UK-NIR","UK-SCT","AL","BA1","BA2","CH","IS","LI","ME","MK","NO","RS","TR"], "paddingInner": 0.38, "paddingOuter": 0.19},
      "axis": {"orient": "right", "title": null, "domain": false, "ticks": false, "tickSize": 0, "grid": false,
        "labelPadding": 9, "labelAlign": "left", "labelFontSize": 19, "labelColor": "#2a2a2a",
        "labelExpr": "datum.value == 'BA1' || datum.value == 'BA2' ? 'BA' : datum.value"}},
    "yOffset": {"field": "l", "type": "nominal", "scale": {"domain": ["p","s"], "paddingInner": 0.32, "paddingOuter": 0}},
    "color": {"field": "t", "type": "nominal", "scale": {"domain": ["g","o"], "range": ["#00693a","#f7941d"]},
      "legend": {"orient": "none", "legendX": 618, "legendY": 1543, "title": ["Tatil günlerinin", "sayısı"], "titleOrient": "left", "titleAnchor": "middle", "titleBaseline": "middle", "titlePadding": 25, "direction": "horizontal",
        "symbolType": "M-2,-0.73H2V0.73H-2Z", "symbolSize": 900, "columnPadding": 25, "labelOffset": 21,
        "labelExpr": "datum.value == 'g' ? 'Sabit veya minumum' : 'Maksimum'"}}
  }
},
{
  "transform": [{"filter": "datum.t == 'o'"}],
  "mark": {"type": "bar"},
  "encoding": {
    "x": {"field": "s", "type": "temporal",
      "scale": {"type": "utc", "domain": [{"year": 2019, "month": 7, "date": 28, "utc": true}, {"year": 2020, "month": 10, "date": 9, "utc": true}]},
      "axis": {"orient": "bottom", "title": null, "labels": false, "grid": false,
        "values": [{"year":2019,"month":8,"date":1,"utc":true},{"year":2019,"month":9,"date":1,"utc":true},{"year":2019,"month":10,"date":1,"utc":true},{"year":2019,"month":11,"date":1,"utc":true},{"year":2019,"month":12,"date":1,"utc":true},{"year":2020,"month":1,"date":1,"utc":true},{"year":2020,"month":2,"date":1,"utc":true},{"year":2020,"month":3,"date":1,"utc":true},{"year":2020,"month":4,"date":1,"utc":true},{"year":2020,"month":5,"date":1,"utc":true},{"year":2020,"month":6,"date":1,"utc":true},{"year":2020,"month":7,"date":1,"utc":true},{"year":2020,"month":8,"date":1,"utc":true},{"year":2020,"month":9,"date":1,"utc":true},{"year":2020,"month":10,"date":1,"utc":true}],
        "tickSize": 16, "tickWidth": 1.2,
        "tickColor": {"condition": {"test": "utcmonth(datum.value) == 0", "value": "#222222"}, "value": "#f6bd95"},
        "domainColor": "#8484c6", "domainWidth": 2.5}},
    "x2": {"field": "e"},
    "y": {"field": "c", "type": "nominal",
      "scale": {"domain": ["BE fr","BE de","BE nl","BG","CZ","DK","DE","EE","IE","EL","ES","FR","HR","IT","CY","LV","LT","LU","HU","MT","NL","AT","PL","PT","RO","SI","SK","FI","SE","UK-ENG","UK-WLS","UK-NIR","UK-SCT","AL","BA1","BA2","CH","IS","LI","ME","MK","NO","RS","TR"], "paddingInner": 0.38, "paddingOuter": 0.19},
      "axis": null},
    "yOffset": {"field": "l", "type": "nominal", "scale": {"domain": ["p","s"], "paddingInner": 0.32, "paddingOuter": 0}},
    "color": {"field": "t", "type": "nominal", "scale": {"domain": ["g","o"], "range": ["#00693a","#f7941d"]}}
  }
},
{
  "transform": [{"filter": "datum.t == 'r'"}],
  "mark": {"type": "bar"},
  "encoding": {
    "x": {"field": "s", "type": "temporal",
      "scale": {"type": "utc", "domain": [{"year": 2019, "month": 7, "date": 28, "utc": true}, {"year": 2020, "month": 10, "date": 9, "utc": true}]},
      "axis": {"orient": "top", "title": null,
        "values": [{"year": 2019, "month": 7, "date": 28, "utc": true}],
        "labelExpr": "'2019'",
        "ticks": false, "tickSize": 0, "domain": false, "grid": false,
        "labelAngle": -50, "labelOffset": -32, "labelPadding": 22, "labelAlign": "center", "labelBaseline": "middle",
        "labelFontSize": 18, "labelFontWeight": "bold", "labelColor": "#333",
        "labelFlush": false, "labelOverlap": false, "labelBound": false}},
    "x2": {"field": "e"},
    "y": {"field": "c", "type": "nominal",
      "scale": {"domain": ["BE fr","BE de","BE nl","BG","CZ","DK","DE","EE","IE","EL","ES","FR","HR","IT","CY","LV","LT","LU","HU","MT","NL","AT","PL","PT","RO","SI","SK","FI","SE","UK-ENG","UK-WLS","UK-NIR","UK-SCT","AL","BA1","BA2","CH","IS","LI","ME","MK","NO","RS","TR"], "paddingInner": 0.38, "paddingOuter": 0.19},
      "axis": null},
    "yOffset": {"field": "l", "type": "nominal", "scale": {"domain": ["p","s"], "paddingInner": 0.32, "paddingOuter": 0}},
    "fill": {"field": "t", "type": "nominal", "scale": {"domain": ["r","x"], "range": ["#ec2027","#c4c4c4"]}}
  }
},
{
  "data": {"values": [{"n": 1}]},
  "mark": {"type": "rule", "color": "#2b2b2b", "strokeWidth": 2.5},
  "encoding": {
    "x": {"datum": {"year": 2020, "month": 1, "date": 1, "utc": true}, "type": "temporal",
      "axis": {"orient": "top", "title": null,
        "values": [{"year": 2020, "month": 10, "date": 9, "utc": true}],
        "labelExpr": "'2020'",
        "ticks": false, "tickSize": 0, "domain": false, "grid": false,
        "labelAngle": 43, "labelOffset": 27, "labelPadding": 22, "labelAlign": "center", "labelBaseline": "middle",
        "labelFontSize": 18, "labelFontWeight": "bold", "labelColor": "#333",
        "labelFlush": false, "labelOverlap": false, "labelBound": false}}
  }
},
{
  "transform": [{"filter": "false"}],
  "mark": {"type": "point", "filled": true, "color": "black"},
  "encoding": {
    "x": {"field": "s", "type": "temporal",
      "scale": {"type": "utc", "domain": [{"year": 2019, "month": 7, "date": 28, "utc": true}, {"year": 2020, "month": 10, "date": 9, "utc": true}]},
      "axis": {"orient": "bottom", "title": null,
        "values": [{"year": 2019, "month": 7, "date": 28, "utc": true}],
        "labelExpr": "'2019'",
        "ticks": false, "tickSize": 0, "domain": false, "grid": false,
        "labelAngle": -40, "labelOffset": -35, "labelPadding": 18, "labelAlign": "center", "labelBaseline": "middle",
        "labelFontSize": 18, "labelFontWeight": "bold", "labelColor": "#333",
        "labelFlush": false, "labelOverlap": false, "labelBound": false}},
    "shape": {"field": "l", "type": "nominal",
      "scale": {"domain": ["p","s"], "range": ["M-2.6,-0.5H2.6V0.5H-2.6Z", "M-2.6,-0.5H2.6V0.5H-2.6Z"]},
      "legend": {"orient": "none", "legendX": -4, "legendY": 1535, "title": "Ülke", "titleOrient": "left", "titleAnchor": "middle", "titleBaseline": "middle", "titlePadding": 52, "direction": "vertical",
        "symbolSize": 676, "symbolFillColor": "black", "symbolOpacity": 1, "rowPadding": 0, "labelOffset": 35,
        "labelExpr": "datum.value == 'p' ? 'İlkokul' : 'Orta okul'"}}
  }
},
{
  "transform": [{"filter": "false"}],
  "mark": {"type": "point", "opacity": 0},
  "encoding": {
    "x": {"field": "s", "type": "temporal",
      "scale": {"type": "utc", "domain": [{"year": 2019, "month": 7, "date": 28, "utc": true}, {"year": 2020, "month": 10, "date": 9, "utc": true}]},
      "axis": {"orient": "bottom", "title": null,
        "values": [{"year": 2020, "month": 10, "date": 9, "utc": true}],
        "labelExpr": "'2020'",
        "ticks": false, "tickSize": 0, "domain": false, "grid": false,
        "labelAngle": 38, "labelOffset": 27, "labelPadding": 19, "labelAlign": "center", "labelBaseline": "middle",
        "labelFontSize": 18, "labelFontWeight": "bold", "labelColor": "#333",
        "labelFlush": false, "labelOverlap": false, "labelBound": false}}
  }
}
]
}
